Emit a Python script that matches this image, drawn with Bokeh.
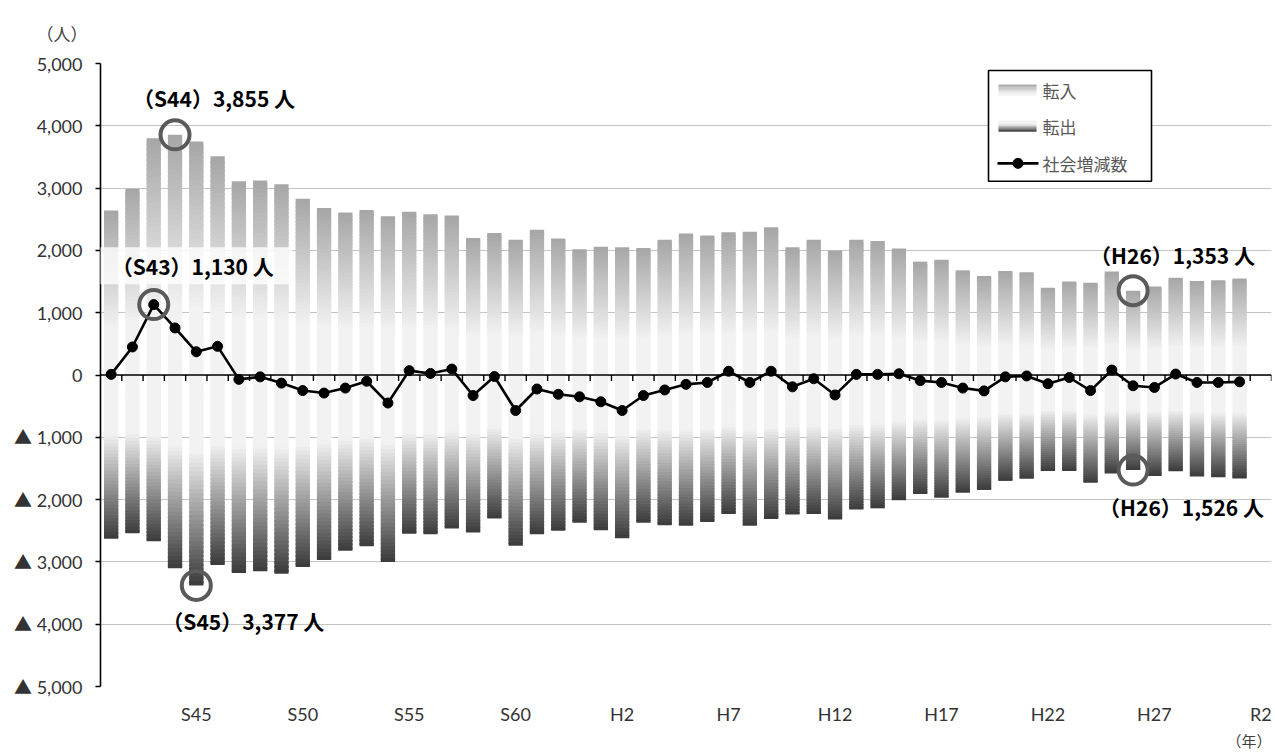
from bokeh.plotting import figure
from bokeh.models import Range1d, FixedTicker, Label, BoxAnnotation, ColumnDataSource, Title
from bokeh.embed import file_html
from bokeh.resources import INLINE

# Fiscal years S41 (1966) .. R2 (2020); data available through R1
years = ["S41", "S42", "S43", "S44", "S45", "S46", "S47", "S48", "S49", "S50",
         "S51", "S52", "S53", "S54", "S55", "S56", "S57", "S58", "S59", "S60",
         "S61", "S62", "S63", "H1", "H2", "H3", "H4", "H5", "H6", "H7",
         "H8", "H9", "H10", "H11", "H12", "H13", "H14", "H15", "H16", "H17",
         "H18", "H19", "H20", "H21", "H22", "H23", "H24", "H25", "H26", "H27",
         "H28", "H29", "H30", "R1", "R2"]

# 転入 (move-ins)
inflow = [2640, 2990, 3800, 3855, 3750, 3510, 3110, 3120, 3060, 2830,
          2680, 2610, 2650, 2550, 2620, 2580, 2560, 2200, 2280, 2170,
          2330, 2190, 2020, 2060, 2050, 2040, 2170, 2270, 2240, 2290,
          2300, 2370, 2050, 2170, 2000, 2170, 2150, 2030, 1820, 1850,
          1680, 1590, 1670, 1650, 1400, 1500, 1480, 1660, 1353, 1420,
          1560, 1510, 1520, 1550]

# 転出 (move-outs)
outflow = [2630, 2540, 2670, 3100, 3377, 3050, 3180, 3150, 3190, 3080,
           2970, 2820, 2750, 3000, 2550, 2555, 2465, 2530, 2305, 2740,
           2555, 2500, 2370, 2490, 2620, 2370, 2410, 2420, 2360, 2230,
           2420, 2310, 2240, 2230, 2320, 2160, 2140, 2010, 1910, 1970,
           1890, 1845, 1700, 1665, 1540, 1540, 1730, 1580, 1526, 1620,
           1545, 1630, 1640, 1660]

# 社会増減数 (net migration)
net = [10, 450, 1130, 755, 373, 460, -70, -30, -130, -250,
       -290, -210, -100, -450, 70, 25, 95, -330, -25, -570,
       -225, -310, -350, -430, -570, -330, -240, -150, -120, 60,
       -120, 60, -190, -60, -320, 10, 10, 20, -90, -120,
       -210, -255, -30, -15, -140, -40, -250, 80, -173, -200,
       15, -120, -120, -110]

y_ticks = [-5000, -4000, -3000, -2000, -1000, 0, 1000, 2000, 3000, 4000, 5000]
y_tick_labels = ["▲ 5,000", "▲ 4,000", "▲ 3,000", "▲ 2,000", "▲ 1,000", "0",
                 "1,000", "2,000", "3,000", "4,000", "5,000"]
x_tick_labels = ["S45", "S50", "S55", "S60", "H2", "H7", "H12", "H17", "H22", "H27", "R2"]
series_names = ["転入", "転出", "社会増減数"]

# highlighted values: (year, series)
callouts = [("S44", "in"), ("S43", "net"), ("S45", "out"), ("H26", "in"), ("H26", "out")]

# ---------------------------------------------------------------- layout
W, H = 1275, 755
FL, FT, FW, FH = 100, 62, 1171, 624
X0, X1 = -0.5, len(years) - 0.5
Y0, Y1 = -5000, 5000


def sx(px):
    return X0 + (px - FL) / FW * (X1 - X0)


def sy(py):
    return Y1 - (py - FT) / FH * (Y1 - Y0)


PX_PER_UNIT = FH / (Y1 - Y0)

p = figure(width=W, height=H, x_range=Range1d(X0, X1), y_range=Range1d(Y0, Y1),
           output_backend="svg", toolbar_location=None,
           min_border_left=FL, min_border_right=W - FL - FW,
           min_border_top=FT, min_border_bottom=H - FT - FH)
p.outline_line_color = None
p.background_fill_color = "white"
p.border_fill_color = "white"

LATIN = "Lato, 'Noto Sans CJK JP'"
CJK = "Noto Sans CJK JP"

# y axis
p.yaxis.ticker = FixedTicker(ticks=y_ticks)
p.yaxis.major_label_overrides = {t: s for t, s in zip(y_ticks, y_tick_labels)}
p.yaxis.axis_line_color = "black"
p.yaxis.axis_line_width = 1.6
p.yaxis.major_tick_line_color = "black"
p.yaxis.major_tick_line_width = 1.6
p.yaxis.major_tick_out = 5
p.yaxis.major_tick_in = 0
p.yaxis.minor_tick_line_color = None
p.yaxis.major_label_standoff = 13
p.yaxis.major_label_text_font = LATIN
p.yaxis.major_label_text_font_size = "18px"
p.yaxis.major_label_text_color = "#333333"

# x axis: labels only, every fifth year
x_tick_pos = [years.index(s) for s in x_tick_labels]
p.xaxis.ticker = FixedTicker(ticks=x_tick_pos)
p.xaxis.major_label_overrides = {t: s for t, s in zip(x_tick_pos, x_tick_labels)}
p.xaxis.axis_line_color = None
p.xaxis.major_tick_line_color = None
p.xaxis.minor_tick_line_color = None
p.xaxis.major_tick_out = 0
p.xaxis.major_tick_in = 0
p.xaxis.major_label_standoff = 16
p.xaxis.major_label_text_font = LATIN
p.xaxis.major_label_text_font_size = "18px"
p.xaxis.major_label_text_color = "#333333"

p.xgrid.grid_line_color = None
p.ygrid.ticker = FixedTicker(ticks=y_ticks)
p.ygrid.grid_line_color = "#c4c4c4"
p.ygrid.grid_line_width = 1


# ---------------------------------------------------------------- gradient bars
def grey(v):
    v = int(round(max(0, min(255, v))))
    return "#%02x%02x%02x" % (v, v, v)


def in_level(f):
    # f: 0 at the bar top, 1 at the baseline
    return 242 if f >= 0.72 else 166 + 76 * f / 0.72


def out_level(f):
    # f: 0 at the baseline, 1 at the bar end
    return 242 if f <= 0.36 else 242 - 184 * (f - 0.36) / 0.64


N = 48
HALF = 0.335
bars = dict(left=[], right=[], top=[], bottom=[], color=[])
for i, (vi, vo) in enumerate(zip(inflow, outflow)):
    for j in range(N):
        f = (j + 0.5) / N
        bars["left"].append(i - HALF)
        bars["right"].append(i + HALF)
        bars["top"].append(vi * (1 - j / N))
        bars["bottom"].append(vi * max(0.0, 1 - (j + 1.6) / N))
        bars["color"].append(grey(in_level(f)))
    for j in range(N):
        f = (j + 0.5) / N
        bars["left"].append(i - HALF)
        bars["right"].append(i + HALF)
        bars["top"].append(-vo * j / N)
        bars["bottom"].append(-vo * min(1.0, (j + 1.6) / N))
        bars["color"].append(grey(out_level(f)))
p.quad(left="left", right="right", top="top", bottom="bottom", fill_color="color",
       line_color=None, source=ColumnDataSource(bars))

# zero line with category tick marks
tick_len = 6 / PX_PER_UNIT
bounds = [k + 0.5 for k in range(len(years))]
p.segment(x0=[X0], y0=[0], x1=[X1], y1=[0], line_color="black", line_width=1.6)
p.segment(x0=bounds, y0=[0] * len(bounds), x1=bounds, y1=[-tick_len] * len(bounds),
          line_color="black", line_width=1.4)

# net migration line
idx = list(range(len(net)))
p.line(idx, net, line_color="black", line_width=2.6)
p.scatter(idx, net, size=10, fill_color="black", line_color="black")

# ---------------------------------------------------------------- callouts
offsets = {
    ("S44", "in"): (-42, 37),
    ("S43", "net"): (-42, 39),
    ("S45", "out"): (-34, -36),
    ("H26", "in"): (-43, 36),
    ("H26", "out"): (-34, -37),
}
series_vals = {"in": inflow, "out": outflow, "net": net}
for yr, key in callouts:
    k = years.index(yr)
    v = series_vals[key][k]
    ypos = -v if key == "out" else v
    p.scatter([k], [ypos], size=29, fill_color=None, line_color="#5a5a5a", line_width=4)
    xo, yo = offsets[(yr, key)]
    if (yr, key) == ("S43", "net"):
        p.add_layout(BoxAnnotation(left=sx(94), right=sx(292), top=sy(246), bottom=sy(283),
                                   fill_color="white", fill_alpha=0.8, line_color=None))
    p.add_layout(Label(x=k, y=ypos, x_offset=xo, y_offset=yo, text=f"（{yr}）{v:,} 人",
                       text_font=CJK, text_font_style="bold", text_font_size="21px",
                       text_color="black", text_baseline="middle", text_align="left"))

# ---------------------------------------------------------------- legend
p.quad(left=[sx(988)], right=[sx(1151)], top=[sy(69)], bottom=[sy(180)],
       fill_color="white", line_color="black", line_width=1.6)
SW_L, SW_R, STRIPES = sx(998), sx(1036), 8
for (ytop, ybot), level in (((83, 94), in_level), ((119, 130), out_level)):
    for s in range(STRIPES):
        f = (s + 0.5) / STRIPES
        t = ytop + (ybot - ytop) * s / STRIPES
        b = ytop + (ybot - ytop) * (s + 1) / STRIPES
        shade = level(f) if level is out_level else level(f * 0.9)
        p.quad(left=[SW_L], right=[SW_R], top=[sy(t)], bottom=[sy(b + 0.4)],
               fill_color=grey(shade), line_color=None)
p.line([sx(997), sx(1038)], [sy(162), sy(162)], line_color="black", line_width=2.6)
p.scatter([sx(1017.5)], [sy(162)], size=10, fill_color="black", line_color="black")
for name, ypix in zip(series_names, (89, 125, 162)):
    p.add_layout(Label(x=sx(1042), y=sy(ypix), text=name, text_font=CJK,
                       text_font_size="17px", text_color="#595959",
                       text_baseline="middle", text_align="left"))

# unit captions outside the plot area
p.add_layout(Title(text="（人）", align="left", offset=-64, standoff=36,
                   text_font=CJK, text_font_size="17px", text_font_style="normal",
                   text_color="#404040"), "above")
p.add_layout(Title(text="（年）", align="right", standoff=0,
                   text_font=CJK, text_font_size="15px", text_font_style="normal",
                   text_color="#404040"), "below")

open("out.html", "w").write(file_html(p, INLINE))
